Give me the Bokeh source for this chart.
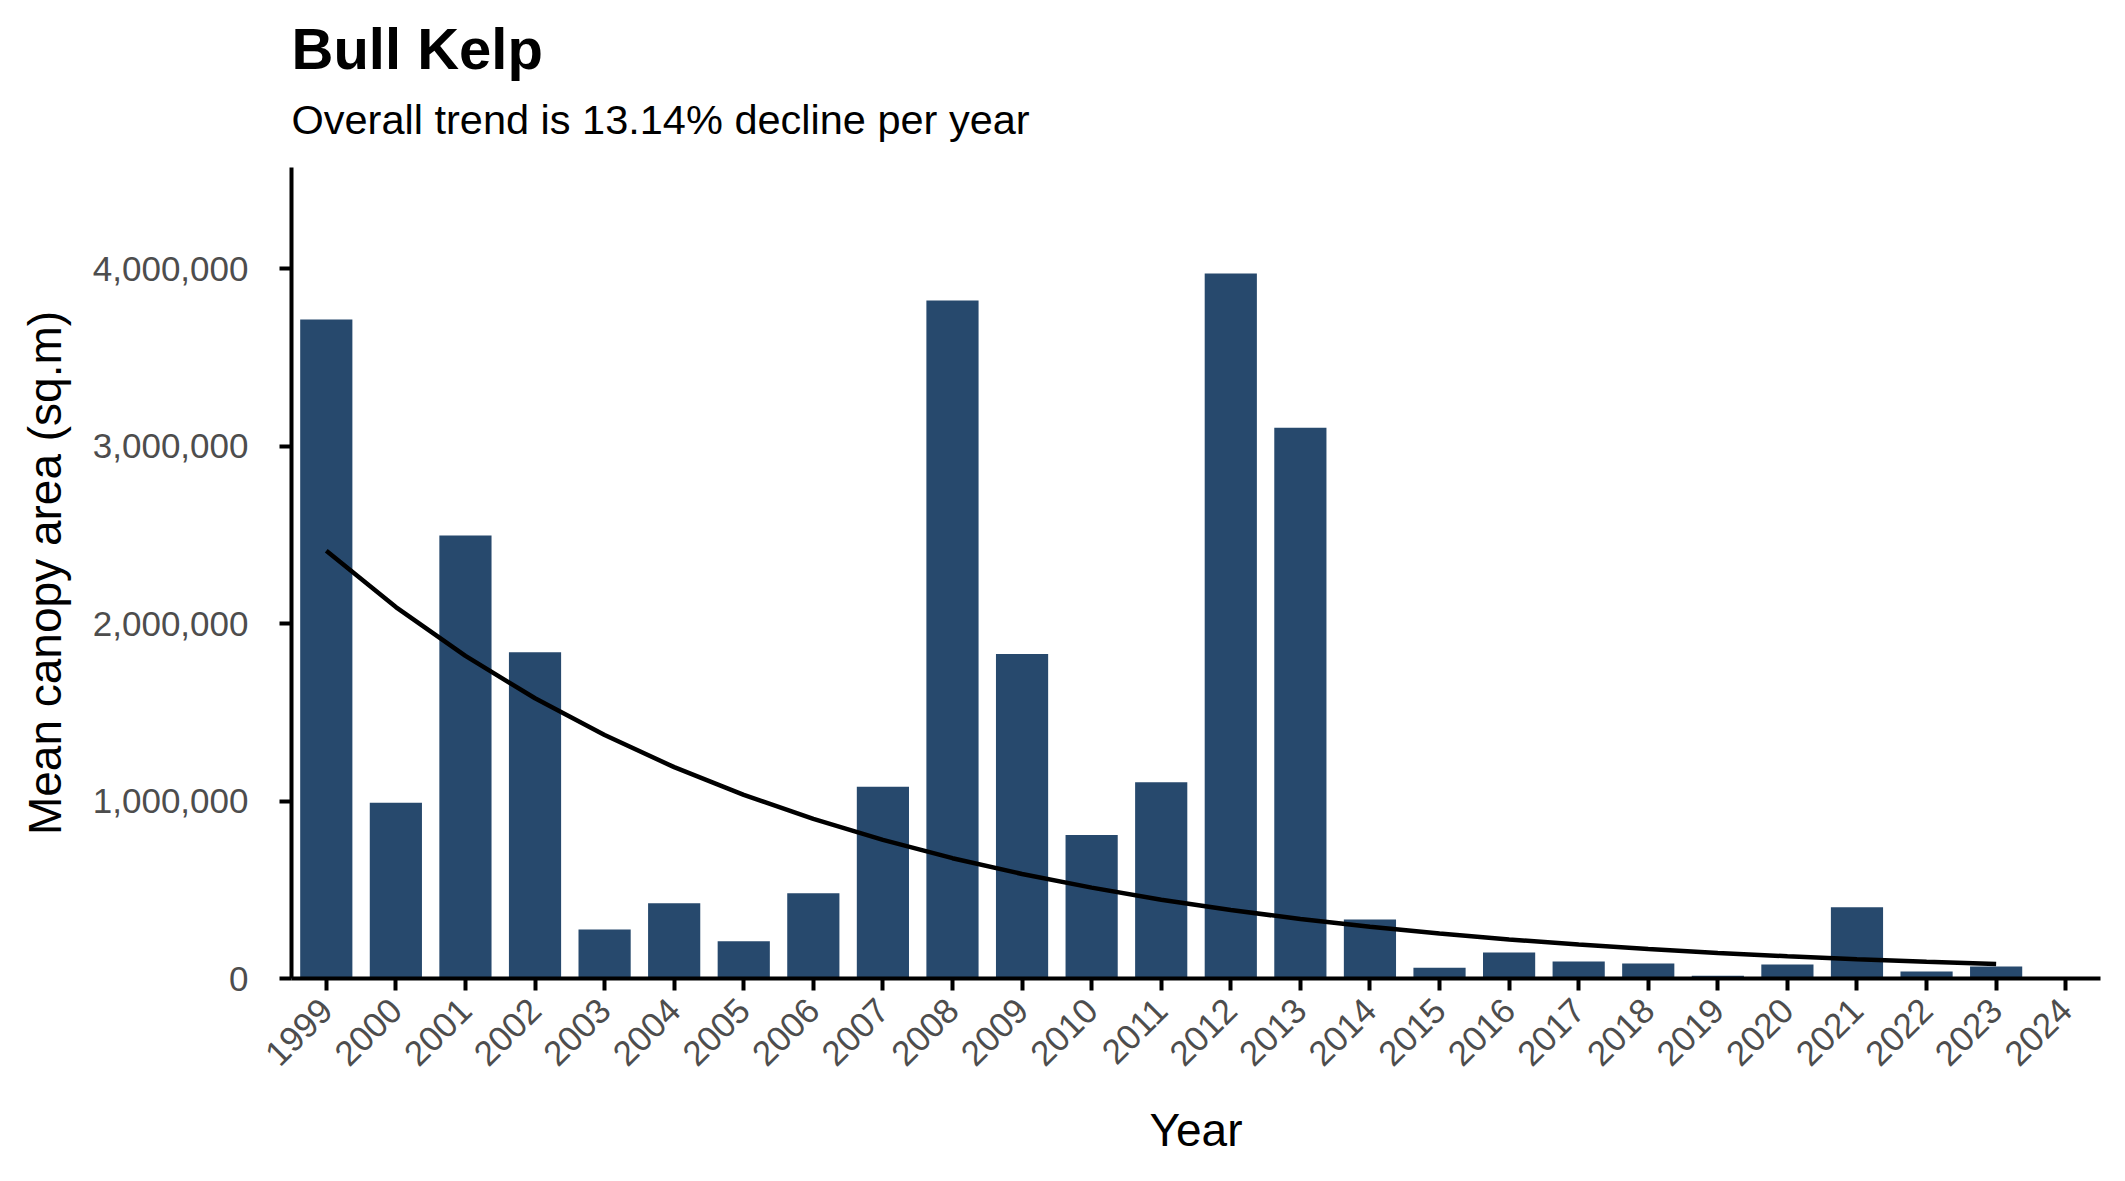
import math
from bokeh.plotting import figure
from bokeh.models import Range1d, FixedTicker, NumeralTickFormatter, Title, ColumnDataSource
from bokeh.embed import file_html
from bokeh.resources import INLINE

# ---- data ----
years = [1999, 2000, 2001, 2002, 2003, 2004, 2005, 2006, 2007, 2008, 2009, 2010,
         2011, 2012, 2013, 2014, 2015, 2016, 2017, 2018, 2019, 2020, 2021, 2022, 2023]
canopy = [3713000, 990000, 2497000, 1838000, 276000, 424000, 210000, 480000, 1080000,
          3820000, 1828000, 808000, 1106000, 3972000, 3104000, 332000, 61000, 146000,
          96000, 85000, 16000, 79000, 401000, 39000, 67000]
trend = [2410000, 2093000, 1818000, 1579000, 1372000, 1191000, 1035000, 899000, 781000,
         678000, 589000, 512000, 444000, 386000, 335000, 291000, 253000, 220000, 191000,
         166000, 144000, 125000, 109000, 94000, 82000]
tick_years = [1999, 2000, 2001, 2002, 2003, 2004, 2005, 2006, 2007, 2008, 2009, 2010, 2011,
              2012, 2013, 2014, 2015, 2016, 2017, 2018, 2019, 2020, 2021, 2022, 2023, 2024]
y_ticks = [0, 1000000, 2000000, 3000000, 4000000]

title_text = "Bull Kelp"
subtitle_text = "Overall trend is 13.14% decline per year"
x_title = "Year"
y_title = "Mean canopy area (sq.m)"

FONT = "Liberation Sans"
BAR = "#27496D"
TICKCOL = "#4D4D4D"

src = ColumnDataSource(dict(year=years, canopy=canopy, trend=trend))

p = figure(width=2125, height=1181, output_backend="svg", toolbar_location=None,
           x_range=Range1d(1998.5, 2024.5), y_range=Range1d(0, 4570000),
           min_border_left=291, min_border_right=25, min_border_top=167,
           min_border_bottom=203)
p.outline_line_color = None
p.xgrid.visible = False
p.ygrid.visible = False
p.background_fill_color = "white"
p.border_fill_color = "white"

p.vbar(x="year", top="canopy", width=0.75, bottom=0, source=src,
       fill_color=BAR, line_color=None)
p.line(x="year", y="trend", source=src, line_color="black", line_width=4.5)

sub = Title(text=subtitle_text, text_font=FONT, text_font_size="41.5px",
            text_font_style="normal", text_color="black", align="left", offset=0,
            standoff=50)
p.add_layout(sub, "above")
ttl = Title(text=title_text, text_font=FONT, text_font_size="58px",
            text_font_style="bold", text_color="black", align="left", offset=0,
            standoff=-24)
p.add_layout(ttl, "above")

for ax in (p.xaxis[0], p.yaxis[0]):
    ax.axis_line_color = "black"
    ax.axis_line_width = 4
    ax.major_tick_line_color = "black"
    ax.major_tick_line_width = 4
    ax.minor_tick_line_color = None
    ax.major_tick_in = 0
    ax.major_label_text_font = FONT
    ax.major_label_text_font_size = "35px"
    ax.major_label_text_color = TICKCOL
    ax.axis_label_text_font = FONT
    ax.axis_label_text_font_size = "46px"
    ax.axis_label_text_font_style = "normal"
    ax.axis_label_text_color = "black"

xa = p.xaxis[0]
xa.ticker = FixedTicker(ticks=tick_years)
xa.major_tick_out = 12
xa.major_label_orientation = math.pi / 4
xa.major_label_standoff = 14
xa.axis_label = x_title
xa.axis_label_standoff = 24
xa.formatter = NumeralTickFormatter(format="0")

ya = p.yaxis[0]
ya.ticker = FixedTicker(ticks=y_ticks)
ya.formatter = NumeralTickFormatter(format="0,0")
ya.major_tick_out = 12
ya.major_label_standoff = 31
ya.axis_label = y_title
ya.axis_label_standoff = 19

open("out.html", "w").write(file_html(p, INLINE))
